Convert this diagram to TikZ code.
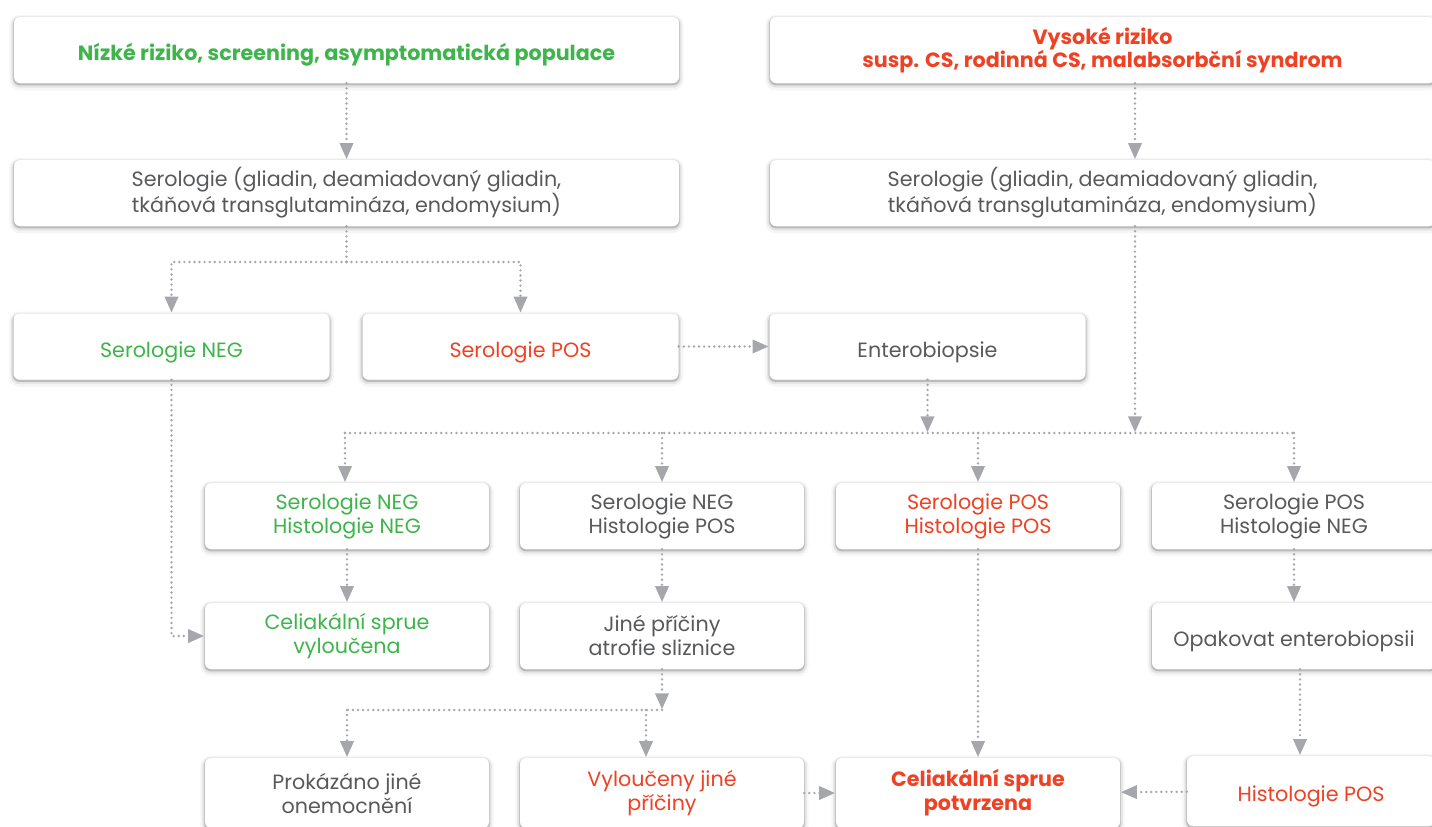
\documentclass[tikz,border=0pt]{standalone}
\usepackage{fontspec}
\setmainfont{Poppins}
\usetikzlibrary{positioning}
\usetikzlibrary{shadows}
\usetikzlibrary{arrows.meta}
\definecolor{zelena}{HTML}{3DB54A}
\definecolor{cervena}{HTML}{EF4123}
\definecolor{seda}{HTML}{58595B}
\definecolor{sipka}{HTML}{A5A7AA}
\tikzset{box/.style = {fill=white, rounded corners=4.5pt, align=center, text=seda,
    font=\fontsize{15.5}{18}\selectfont, inner sep=0pt, minimum height=49.5pt,
    general shadow={shadow yshift=-2pt, fill=black, draw=black, line width=7pt, opacity=0.035},
    general shadow={shadow yshift=-1.5pt, draw=black, line width=4pt, opacity=0.07},
    general shadow={shadow yshift=-1pt, draw=black, line width=1.6pt, opacity=0.15}}}
\tikzset{wide/.style = {box, minimum width=498.75pt}}
\tikzset{half/.style = {box, minimum width=237pt}}
\tikzset{small/.style = {box, minimum width=213pt}}
\tikzset{radek/.style = {text height=16pt, text depth=0pt}}
\tikzset{line/.style = {draw=sipka, line width=2pt, line cap=round, dash pattern=on 0pt off 3.8pt}}
\tikzset{link/.style = {line, -{Triangle[length=12pt, width=10pt]}, shorten >=0.5pt}}

\begin{document}
\begin{tikzpicture}[x=0.75pt, y=-0.75pt]
      \useasboundingbox (0,0) rectangle (1432,826);

      % entry rows
      \node [wide, radek, text=zelena, font=\fontsize{15.5}{18}\selectfont\bfseries] (nizke) at (346.5,50) {Nízké riziko, screening, asymptomatická populace};
      \node [wide, text=cervena, font=\fontsize{15.5}{17}\selectfont\bfseries] (vysoke) at (1102.5,50) {Vysoké riziko\\susp. CS, rodinná CS, malabsorbční syndrom};
      \node [wide] (serA) at (346.5,193) {Serologie (gliadin, deamiadovaný gliadin,\\tkáňová transglutamináza, endomysium)};
      \node [wide] (serB) at (1102.5,193) {Serologie (gliadin, deamiadovaný gliadin,\\tkáňová transglutamináza, endomysium)};

      % serology result
      \node [half, radek, text=zelena] (neg) at (171.5,346.5) {Serologie NEG};
      \node [half, radek, text=cervena] (pos) at (520.5,346.5) {Serologie POS};
      \node [half, radek] (biop) at (927.5,346.5) {Enterobiopsie};

      % combinations
      \node [small, text=zelena] (nn) at (347,516) {Serologie NEG\\Histologie NEG};
      \node [small] (np) at (662,516) {Serologie NEG\\Histologie POS};
      \node [small, text=cervena] (pp) at (978,516) {Serologie POS\\Histologie POS};
      \node [small] (pn) at (1294,516) {Serologie POS\\Histologie NEG};

      \node [small, text=zelena] (vylouc) at (347,636) {Celiakální sprue\\vyloučena};
      \node [small] (jine) at (662,636) {Jiné příčiny\\atrofie sliznice};
      \node [small, radek] (opak) at (1294,636) {Opakovat enterobiopsii};

      \node [small, minimum height=52.5pt] (prok) at (347,793) {Prokázáno jiné\\onemocnění};
      \node [small, minimum height=52.5pt, text=cervena] (vyl) at (662,793) {Vyloučeny jiné\\příčiny};
      \node [small, minimum height=52.5pt, text=cervena, font=\fontsize{15.5}{18}\selectfont\bfseries] (potvr) at (978,793) {Celiakální sprue\\potvrzena};
      \node [box, radek, minimum width=186pt, minimum height=52.5pt, text=cervena] (hist) at (1311,791) {Histologie POS};

      % branch points
      \coordinate (rozA) at (346.5,262);
      \coordinate (osaB) at (1135,120);
      \coordinate (rada) at (345,433);
      \coordinate (rozJ) at (646,710);

      \draw [link] (nizke) -- (serA);
      \draw [link] (osaB |- vysoke.south) -- (osaB |- serB.north);
      \draw [line] (serA) -- (rozA);
      \draw [link] (rozA) -| (neg);
      \draw [link] (rozA) -| (pos);
      \draw [link] (pos) -- (biop);

      \draw [link] (biop) -- (biop |- rada);
      \draw [link] (osaB |- serB.south) -- (osaB |- rada);
      \draw [line] (rada) -- (rada -| pn);
      \draw [link] (rada) -- (rada |- nn.north);
      \draw [link] (np |- rada) -- (np);
      \draw [link] (pp |- rada) -- (pp);
      \draw [link] (pn |- rada) -- (pn);

      \draw [link] (neg) |- (vylouc);
      \draw [link] (nn) -- (vylouc);
      \draw [link] (np) -- (jine);
      \draw [link] (pn) -- (opak);

      \draw [link] (jine) -- (jine |- rozJ);
      \draw [line] (jine |- rozJ) -- (prok |- rozJ);
      \draw [link] (prok |- rozJ) -- (prok);
      \draw [link] (rozJ) -- (rozJ |- vyl.north);

      \draw [link] (pp) -- (potvr);
      \draw [link] (opak.south -| 1300,0) -- (hist.north -| 1300,0);
      \draw [link] (vyl) -- (potvr);
      \draw [link] (hist) -- (potvr);
    \end{tikzpicture}
\end{document}
